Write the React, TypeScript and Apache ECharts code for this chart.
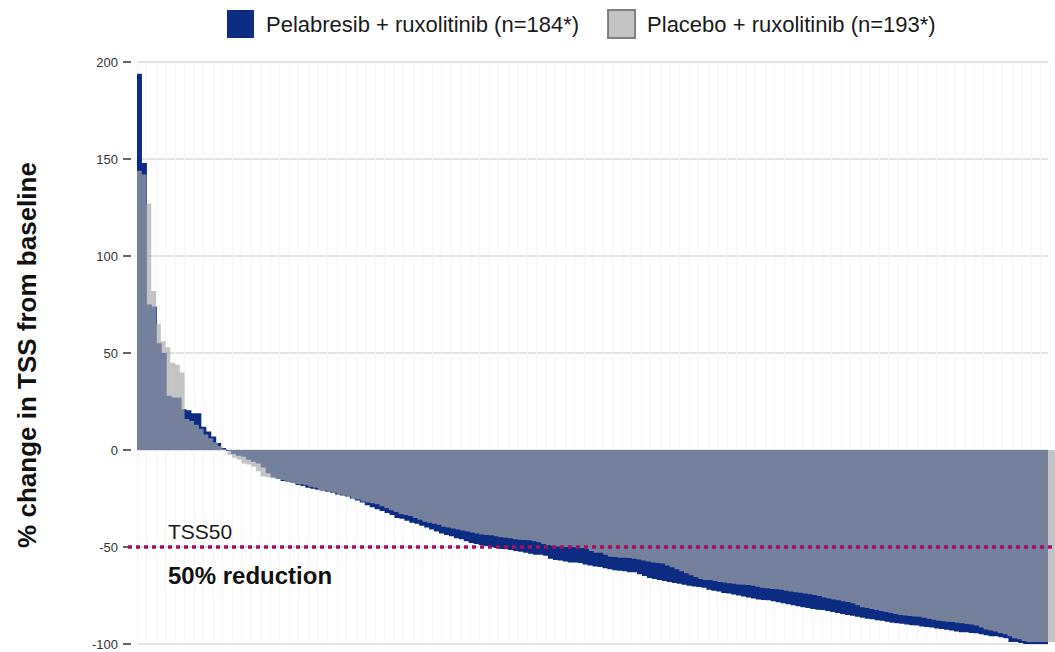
import React, { useEffect, useRef } from "react";
import * as echarts from "echarts";

const PELA_NAME = "Pelabresib + ruxolitinib (n=184*)";
const PLAC_NAME = "Placebo + ruxolitinib (n=193*)";
const Y_TITLE = "% change in TSS from baseline";
const TSS_LABEL = "TSS50";
const TSS_NOTE = "50% reduction";
const TSS_VALUE = -50;
const Y_MIN = -100;
const Y_MAX = 200;
const Y_STEP = 50;

// % change from baseline per patient, sorted (Pelabresib arm, n=184)
const pelabresib: number[] = [
  194, 148, 75, 74, 55, 50, 28, 27, 27, 21,
  20.5, 19, 19, 12, 9.5, 7, 3.6, 1, -0.5, -2,
  -3, -3.5, -5, -6, -7, -9, -12, -14, -15, -16,
  -16.5, -17, -18, -18.5, -19.5, -20, -20.5, -21, -21.5, -22,
  -23, -23.5, -24, -25, -26, -27, -28.5, -29.5, -30.5, -31.5,
  -32.5, -33.5, -35, -35.5, -36.5, -37.5, -38, -39, -40, -41,
  -42, -43, -43.8, -44.5, -45.5, -46, -47, -48, -48.5, -49,
  -49.5, -50, -50.5, -51, -51.2, -51.5, -52, -52.5, -53, -53.5,
  -54, -54, -54.5, -56, -56.7, -57, -57.5, -58, -58, -58.2,
  -59, -59.5, -60, -60.3, -61, -61.5, -62, -62.3, -62.5, -63,
  -63, -64, -65, -66, -66.5, -67, -67.5, -68, -68.5, -69,
  -69.5, -70, -70.3, -70.6, -71, -72, -72.5, -73, -73.7, -74,
  -74.5, -75, -75.5, -76, -76.5, -77, -77.3, -77.5, -78, -78.5,
  -79, -79.5, -80, -80.5, -81, -81.5, -82, -82.3, -82.5, -83,
  -83.5, -84, -84.5, -85, -85.5, -86, -86.5, -87, -87.3, -87.7,
  -88, -88.5, -89, -89.3, -89.5, -90, -90.3, -90.5, -91, -91.2,
  -91.5, -92, -92.3, -92.7, -93, -93.5, -94, -94, -94.3, -94.5,
  -95, -95.5, -96, -96, -96.5, -97, -99, -99, -99.5, -100,
  -100, -100, -100, -100,
];

// % change from baseline per patient, sorted (Placebo arm, n=193)
const placebo: number[] = [
  144, 142, 127, 82, 65, 56, 53, 45, 44, 40,
  16, 15, 13, 11, 8, 6, 4, 2, 0.5, -2.6,
  -4, -5, -7, -7.5, -8.6, -11, -13.7, -14, -14.6, -15,
  -15.5, -16.5, -17, -17.5, -17.8, -18.2, -19, -19.5, -21, -21,
  -21.5, -22, -23, -23.5, -24, -25, -25.5, -26.5, -27, -27.5,
  -28, -29, -30, -31, -32, -33, -33.5, -34, -35, -36,
  -37, -37.5, -38, -38.5, -39.5, -40, -40.5, -41, -41.5, -42,
  -42.5, -43, -43.5, -43.8, -44, -44.5, -45, -45.2, -45.5, -46,
  -46.2, -46.4, -46.5, -47, -47.5, -48.5, -49, -49.5, -49.8, -50,
  -50, -50, -50.2, -50.5, -51, -52, -53, -53, -54, -55,
  -55.2, -55.5, -55.5, -55.7, -56, -56.5, -57, -57.5, -58, -58.2,
  -58.5, -59.5, -60.5, -61.5, -62.5, -63.5, -64.5, -65.5, -66.5, -67,
  -67, -67.5, -68, -68.3, -68.7, -69, -69.3, -69.5, -69.6, -70,
  -70.5, -71, -71.3, -71.6, -71.8, -72, -72.5, -73, -73.3, -73.6,
  -74, -74.3, -74.7, -75.3, -76, -76.5, -77, -77.5, -78, -78.4,
  -79, -80, -81, -81.5, -82, -82.5, -83, -83.5, -84, -84.5,
  -85, -85.3, -85.6, -85.8, -86, -86.5, -87, -87.5, -88, -88.3,
  -88.5, -88.7, -89, -89.3, -89.7, -90, -90.5, -91.5, -92.5, -93,
  -93.5, -94.3, -95, -96, -97, -97.5, -98.5, -99, -99, -99,
  -99, -99, -99,
];

const pelaCats = pelabresib.map((_, i) => `A${i + 1}`);
const placCats = placebo.map((_, i) => `B${i + 1}`);

const FONT = "'Liberation Sans', Arial, Helvetica, sans-serif";
const BLUE = "#0c2c84";
const GRAY_FILL = "rgba(168,168,168,0.68)";

// Waterfall drawn as one staircase polygon (no seams between adjacent bars),
// each step positioned through the category/value axes with api.coord / api.size.
function waterfallRenderer(values: number[], fill: string) {
  return (params: any, api: any) => {
    if (params.dataIndex !== 0) return null;
    const w = api.size([1, 0])[0];
    const base = api.coord([0, 0])[1];
    const first = api.coord([0, values[0]]);
    const pts: number[][] = [[first[0] - w / 2, base]];
    values.forEach((v, i) => {
      const c = api.coord([i, v]);
      pts.push([c[0] - w / 2, c[1]]);
      pts.push([c[0] + w / 2, c[1]]);
    });
    const last = api.coord([values.length - 1, 0]);
    pts.push([last[0] + w / 2, base]);
    return {
      type: "polygon",
      shape: { points: pts },
      style: { fill, stroke: null },
      silent: true,
    };
  };
}

export default function App() {
  const ref = useRef<HTMLDivElement>(null);

  useEffect(() => {
    if (!ref.current) return;
    const chart = echarts.init(ref.current, undefined, { renderer: "svg" });

    const hiddenAxis = {
      axisLine: { show: false },
      axisTick: { show: false },
      axisLabel: { show: false },
    };

    chart.setOption({
      animation: false,
      backgroundColor: "#ffffff",
      textStyle: { fontFamily: FONT },
      legend: {
        top: 9,
        left: 227,
        padding: 0,
        itemWidth: 27,
        itemHeight: 28,
        itemGap: 28,
        selectedMode: false,
        textStyle: { fontSize: 22, color: "#1a1a1a", fontFamily: FONT, padding: [0, 0, 0, 7] },
        data: [
          { name: PELA_NAME, icon: "rect", itemStyle: { color: BLUE, opacity: 1, borderWidth: 0 } },
          {
            name: PLAC_NAME,
            icon: "rect",
            itemStyle: { color: "#c4c4c4", opacity: 1, borderColor: "#7f7f7f", borderWidth: 2 },
          },
        ],
      },
      grid: [
        { left: 137, top: 62, right: 7, height: 582 },
        { left: 137, top: 62, right: 0, height: 582 },
      ],
      xAxis: [
        {
          type: "category",
          gridIndex: 0,
          data: pelaCats,
          ...hiddenAxis,
          splitLine: { show: false },
        },
        {
          type: "category",
          gridIndex: 1,
          data: placCats,
          ...hiddenAxis,
          splitLine: { show: true, interval: 1, lineStyle: { color: "#f5f5f5", width: 1 } },
        },
      ],
      yAxis: [
        {
          type: "value",
          gridIndex: 0,
          min: Y_MIN,
          max: Y_MAX,
          interval: Y_STEP,
          offset: 6,
          axisLine: { show: false },
          axisTick: { show: true, length: 8, lineStyle: { color: "#333", width: 1.5 } },
          axisLabel: { margin: 13, fontSize: 13, color: "#333", fontFamily: FONT },
          splitLine: { show: true, lineStyle: { color: "#e3e3e3", width: 2 } },
        },
        {
          type: "value",
          gridIndex: 1,
          min: Y_MIN,
          max: Y_MAX,
          interval: Y_STEP,
          show: false,
          splitLine: { show: false },
        },
      ],
      series: [
        {
          type: "custom",
          name: PELA_NAME,
          xAxisIndex: 0,
          yAxisIndex: 0,
          data: pelabresib.map((v, i) => [i, v]),
          itemStyle: { color: BLUE },
          renderItem: waterfallRenderer(pelabresib, BLUE),
          clip: true,
          silent: true,
          z: 2,
        },
        {
          type: "custom",
          name: PLAC_NAME,
          xAxisIndex: 1,
          yAxisIndex: 1,
          data: placebo.map((v, i) => [i, v]),
          itemStyle: { color: "#c4c4c4" },
          renderItem: waterfallRenderer(placebo, GRAY_FILL),
          clip: true,
          silent: true,
          z: 3,
        },
      ],
    });

    const y50 = chart.convertToPixel({ yAxisIndex: 0 }, TSS_VALUE) as number;
    chart.setOption({
      graphic: [
        {
          type: "line",
          z: 100,
          silent: true,
          shape: { x1: 128, y1: y50, x2: 1055, y2: y50 },
          style: { stroke: "#a3105e", lineWidth: 3.5, lineDash: [4, 4] },
        },
        {
          type: "text",
          z: 100,
          x: 168,
          y: y50 - 16,
          style: {
            text: TSS_LABEL,
            fill: "#1a1a1a",
            fontSize: 21,
            fontFamily: FONT,
            align: "left",
            verticalAlign: "middle",
          },
        },
        {
          type: "text",
          z: 100,
          x: 168,
          y: y50 + 28,
          style: {
            text: TSS_NOTE,
            fill: "#111",
            fontSize: 24,
            fontWeight: "bold",
            fontFamily: FONT,
            align: "left",
            verticalAlign: "middle",
          },
        },
        {
          type: "text",
          z: 100,
          x: 27,
          y: 355,
          rotation: Math.PI / 2,
          style: {
            text: Y_TITLE,
            fill: "#111",
            fontSize: 26,
            fontWeight: "bold",
            fontFamily: FONT,
            align: "center",
            verticalAlign: "middle",
          },
        },
      ],
    });

    return () => chart.dispose();
  }, []);

  return (
    <div
      ref={ref}
      style={{ position: "fixed", left: 0, top: 0, width: 1055, height: 652, background: "#fff" }}
    />
  );
}
